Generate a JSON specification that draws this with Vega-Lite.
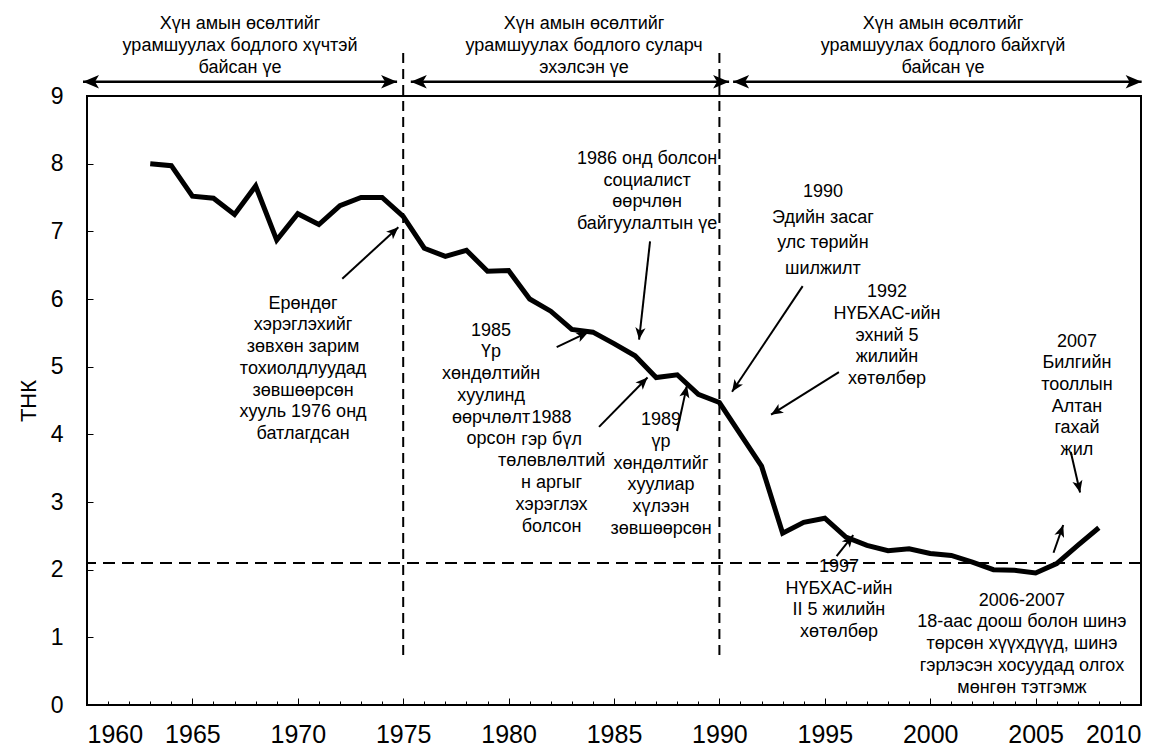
{
  "$schema": "https://vega.github.io/schema/vega-lite/v6.json",
  "width": 1054,
  "height": 609,
  "autosize": {"type": "none"},
  "padding": {"left": 87, "top": 96, "right": 33, "bottom": 42},
  "background": "white",
  "config": {
    "view": {"stroke": "black", "strokeWidth": 2},
    "font": "Liberation Sans",
    "text": {"font": "Liberation Sans"}
  },
  "datasets": {
    "series": [
      {"year": 1963, "tnk": 8.0}, {"year": 1964, "tnk": 7.97}, {"year": 1965, "tnk": 7.52},
      {"year": 1966, "tnk": 7.49}, {"year": 1967, "tnk": 7.25}, {"year": 1968, "tnk": 7.67},
      {"year": 1969, "tnk": 6.87}, {"year": 1970, "tnk": 7.26}, {"year": 1971, "tnk": 7.1},
      {"year": 1972, "tnk": 7.38}, {"year": 1973, "tnk": 7.5}, {"year": 1974, "tnk": 7.5},
      {"year": 1975, "tnk": 7.22}, {"year": 1976, "tnk": 6.75}, {"year": 1977, "tnk": 6.63},
      {"year": 1978, "tnk": 6.72}, {"year": 1979, "tnk": 6.41}, {"year": 1980, "tnk": 6.42},
      {"year": 1981, "tnk": 6.0}, {"year": 1982, "tnk": 5.82}, {"year": 1983, "tnk": 5.55},
      {"year": 1984, "tnk": 5.51}, {"year": 1985, "tnk": 5.34}, {"year": 1986, "tnk": 5.16},
      {"year": 1987, "tnk": 4.84}, {"year": 1988, "tnk": 4.88}, {"year": 1989, "tnk": 4.59},
      {"year": 1990, "tnk": 4.47}, {"year": 1991, "tnk": 4.0}, {"year": 1992, "tnk": 3.53},
      {"year": 1993, "tnk": 2.54}, {"year": 1994, "tnk": 2.7}, {"year": 1995, "tnk": 2.76},
      {"year": 1996, "tnk": 2.48}, {"year": 1997, "tnk": 2.36}, {"year": 1998, "tnk": 2.28},
      {"year": 1999, "tnk": 2.31}, {"year": 2000, "tnk": 2.24}, {"year": 2001, "tnk": 2.21},
      {"year": 2002, "tnk": 2.11}, {"year": 2003, "tnk": 2.0}, {"year": 2004, "tnk": 1.99},
      {"year": 2005, "tnk": 1.95}, {"year": 2006, "tnk": 2.09}, {"year": 2007, "tnk": 2.36},
      {"year": 2008, "tnk": 2.62}
    ],
    "periods": [
      {"x": 1975, "y": 0.74, "y2": 9.68},
      {"x": 1990, "y": 0.74, "y2": 9.68}
    ],
    "replacement": [{"y": 2.1}],
    "arrows": [
      {"kind": "top", "double": true, "x": 1959.81, "y": 9.21, "x2": 1974.71, "y2": 9.21},
      {"kind": "top", "double": true, "x": 1975.36, "y": 9.21, "x2": 1990.46, "y2": 9.21},
      {"kind": "top", "double": true, "x": 1990.65, "y": 9.21, "x2": 2010.03, "y2": 9.21},
      {"kind": "note", "double": false, "x": 1972.11, "y": 6.3, "x2": 1974.77, "y2": 7.06},
      {"kind": "note", "double": false, "x": 1982.28, "y": 5.29, "x2": 1983.78, "y2": 5.51},
      {"kind": "note", "double": false, "x": 1986.71, "y": 6.85, "x2": 1986.19, "y2": 5.4},
      {"kind": "note", "double": false, "x": 1984.29, "y": 4.11, "x2": 1986.59, "y2": 4.84},
      {"kind": "note", "double": false, "x": 1987.99, "y": 4.05, "x2": 1988.46, "y2": 4.72},
      {"kind": "note", "double": false, "x": 1993.95, "y": 6.19, "x2": 1990.6, "y2": 4.63},
      {"kind": "note", "double": false, "x": 1995.67, "y": 4.92, "x2": 1992.45, "y2": 4.29},
      {"kind": "note", "double": false, "x": 1995.56, "y": 2.2, "x2": 1996.35, "y2": 2.51},
      {"kind": "note", "double": false, "x": 2005.85, "y": 2.25, "x2": 2006.31, "y2": 2.66},
      {"kind": "note", "double": false, "x": 2006.67, "y": 3.74, "x2": 2007.11, "y2": 3.14}
    ],
    "notes": [
      {"x": 1967.26, "y": 10.06, "label": "Хүн амын өсөлтийг\nурамшуулах бодлого хүчтэй\nбайсан үе"},
      {"x": 1983.58, "y": 10.06, "label": "Хүн амын өсөлтийг\nурамшуулах бодлого суларч\nэхэлсэн үе"},
      {"x": 2000.61, "y": 10.06, "label": "Хүн амын өсөлтийг\nурамшуулах бодлого байхгүй\nбайсан үе"},
      {"x": 1970.25, "y": 5.93, "label": "Ерөндөг\nхэрэглэхийг\nзөвхөн зарим\nтохиолдлуудад\nзөвшөөрсөн\nхууль 1976 онд\nбатлагдсан"},
      {"x": 1979.17, "y": 5.53, "label": "1985\nҮр\nхөндөлтийн\nхуулинд\nөөрчлөлт\nорсон"},
      {"x": 1986.57, "y": 8.07, "label": "1986 онд болсон\nсоциалист\nөөрчлөн\nбайгуулалтын үе"},
      {"x": 1982.04, "y": 4.24, "label": "1988\nгэр бүл\nтөлөвлөлтий\nн аргыг\nхэрэглэх\nболсон"},
      {"x": 1987.23, "y": 4.21, "label": "1989\nүр\nхөндөлтийг\nхуулиар\nхүлээн\nзөвшөөрсөн"},
      {"x": 1997.95, "y": 6.1, "label": "1992\nНҮБХАС-ийн\nэхний 5\nжилийн\nхөтөлбөр"},
      {"x": 1995.67, "y": 2.04, "label": "1997\nНҮБХАС-ийн\nII 5 жилийн\nхөтөлбөр"},
      {"x": 2004.35, "y": 1.54, "label": "2006-2007\n18-аас доош болон шинэ\nтөрсөн хүүхдүүд, шинэ\nгэрлэсэн хосуудад олгох\nмөнгөн тэтгэмж"},
      {"x": 2006.96, "y": 5.37, "label": "2007\nБилгийн\nтооллын\nАлтан\nгахай\nжил"}
    ],
    "notes_wide": [
      {"x": 1994.91, "y": 7.58, "label": "1990\nЭдийн засаг\nулс төрийн\nшилжилт"}
    ]
  },
  "resolve": {"axis": {"x": "independent"}},
  "layer": [
    {
      "data": {"name": "replacement"},
      "mark": {"type": "rule", "color": "black", "strokeWidth": 2, "strokeDash": [12, 7]},
      "encoding": {
        "y": {
          "field": "y", "type": "quantitative",
          "scale": {"domain": [0, 9], "nice": false, "zero": true},
          "axis": {
            "values": [0, 1, 2, 3, 4, 5, 6, 7, 8, 9],
            "format": "d",
            "title": "ТНК", "titleFontSize": 22, "titleFontWeight": "normal", "titleColor": "black",
            "titlePadding": 10,
            "labelFontSize": 23, "labelColor": "black", "labelPadding": 30,
            "tickSize": -6, "tickColor": "black", "tickWidth": 1,
            "domain": false, "grid": false
          }
        }
      }
    },
    {
      "data": {"name": "periods"},
      "mark": {"type": "rule", "color": "black", "strokeWidth": 2, "strokeDash": [10, 6], "clip": false},
      "encoding": {
        "x": {
          "field": "x", "type": "quantitative",
          "scale": {"domain": [1960, 2010], "nice": false, "zero": false},
          "axis": {
            "orient": "bottom",
            "values": [1960, 1961, 1962, 1963, 1964, 1965, 1966, 1967, 1968, 1969, 1970, 1971, 1972, 1973, 1974, 1975, 1976, 1977, 1978, 1979, 1980, 1981, 1982, 1983, 1984, 1985, 1986, 1987, 1988, 1989, 1990, 1991, 1992, 1993, 1994, 1995, 1996, 1997, 1998, 1999, 2000, 2001, 2002, 2003, 2004, 2005, 2006, 2007, 2008, 2009, 2010],
            "labels": false, "title": null, "domain": false, "grid": false,
            "tickSize": -4, "tickColor": "black", "tickWidth": 1
          }
        },
        "y": {"field": "y", "type": "quantitative"},
        "y2": {"field": "y2"}
      }
    },
    {
      "data": {"name": "series"},
      "mark": {"type": "line", "color": "black", "strokeWidth": 5, "strokeJoin": "miter"},
      "encoding": {
        "x": {
          "field": "year", "type": "quantitative",
          "axis": {
            "orient": "bottom",
            "values": [1960, 1965, 1970, 1975, 1980, 1985, 1990, 1995, 2000, 2005, 2010],
            "format": "d", "title": null,
            "labelFontSize": 25, "labelColor": "black", "labelPadding": 24,
            "tickSize": -7, "tickColor": "black", "tickWidth": 1,
            "domain": false, "grid": false
          }
        },
        "y": {"field": "tnk", "type": "quantitative"}
      }
    },
    {
      "data": {"name": "arrows"},
      "mark": {"type": "rule", "color": "black", "clip": false},
      "encoding": {
        "x": {"field": "x", "type": "quantitative", "axis": null},
        "y": {"field": "y", "type": "quantitative"},
        "x2": {"field": "x2"},
        "y2": {"field": "y2"},
        "strokeWidth": {"field": "kind", "type": "nominal", "scale": {"domain": ["top", "note"], "range": [2.5, 2]}, "legend": null}
      }
    },
    {
      "data": {"name": "arrows"},
      "transform": [
        {"calculate": "atan2(-(datum.y2 - datum.y) * 67.67, (datum.x2 - datum.x) * 21.08) * 180 / PI", "as": "angle"}
      ],
      "mark": {"type": "point", "shape": "M0,0L-2,-0.85L-1.5,0L-2,0.85Z", "filled": true, "color": "black", "opacity": 1, "clip": false},
      "encoding": {
        "x": {"field": "x2", "type": "quantitative", "axis": null},
        "y": {"field": "y2", "type": "quantitative"},
        "angle": {"field": "angle", "type": "quantitative", "scale": null},
        "size": {"field": "kind", "type": "nominal", "scale": {"domain": ["top", "note"], "range": [256, 144]}, "legend": null}
      }
    },
    {
      "data": {"name": "arrows"},
      "transform": [
        {"filter": "datum.double"},
        {"calculate": "atan2(-(datum.y - datum.y2) * 67.67, (datum.x - datum.x2) * 21.08) * 180 / PI", "as": "angle"}
      ],
      "mark": {"type": "point", "shape": "M0,0L-2,-0.85L-1.5,0L-2,0.85Z", "filled": true, "color": "black", "opacity": 1, "clip": false},
      "encoding": {
        "x": {"field": "x", "type": "quantitative", "axis": null},
        "y": {"field": "y", "type": "quantitative"},
        "angle": {"field": "angle", "type": "quantitative", "scale": null},
        "size": {"field": "kind", "type": "nominal", "scale": {"domain": ["top", "note"], "range": [256, 144]}, "legend": null}
      }
    },
    {
      "data": {"name": "notes"},
      "mark": {"type": "text", "align": "center", "baseline": "middle", "fontSize": 18, "lineHeight": 21.7, "lineBreak": "\n", "color": "black", "clip": false},
      "encoding": {
        "x": {"field": "x", "type": "quantitative", "axis": null},
        "y": {"field": "y", "type": "quantitative"},
        "text": {"field": "label"}
      }
    },
    {
      "data": {"name": "notes_wide"},
      "mark": {"type": "text", "align": "center", "baseline": "middle", "fontSize": 18, "lineHeight": 25.7, "lineBreak": "\n", "color": "black", "clip": false},
      "encoding": {
        "x": {"field": "x", "type": "quantitative", "axis": null},
        "y": {"field": "y", "type": "quantitative"},
        "text": {"field": "label"}
      }
    }
  ]
}
